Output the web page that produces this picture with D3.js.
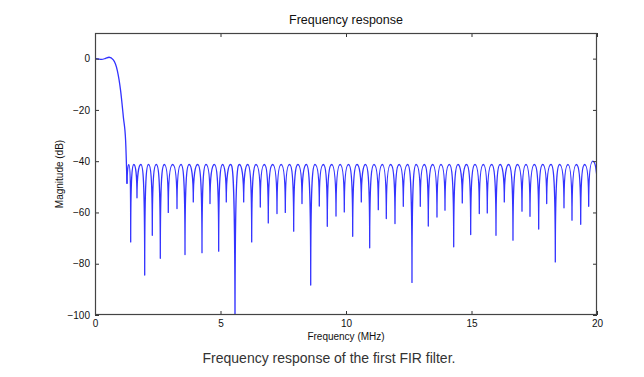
<!DOCTYPE html>
<html>
<head>
<meta charset="utf-8">
<script src="https://cdn.jsdelivr.net/npm/d3@7"></script>
<style>
  body { margin: 0; background: #fff; }
  text { font-family: "Liberation Sans", Arial, sans-serif; }
</style>
</head>
<body>
<script>
// values
const mainFreq = [0, 0.1, 0.27, 0.42, 0.56, 0.73, 0.89, 1.02, 1.13, 1.22]
const mainDb   = [0, -0.1, -0.3, 0.1, 0.55, -0.5, -4.7, -12.5, -22.8, -32]

const nullFreq = [1.275, 1.422, 1.673, 1.980, 2.283, 2.602, 2.920, 3.267, 3.586, 3.916,
  4.263, 4.582, 4.928, 5.231, 5.578, 5.924, 6.243, 6.586, 6.904, 7.251,
  7.582, 7.916, 8.247, 8.594, 8.936, 9.255, 9.602, 9.932, 10.267,
  10.610, 10.944, 11.287, 11.606, 11.952, 12.283, 12.629, 12.960, 13.279, 13.625,
  13.944, 14.291, 14.633, 14.968, 15.311, 15.629, 15.976, 16.307, 16.653,
  17.012, 17.331, 17.677, 17.996, 18.339, 18.685, 19.004, 19.351, 19.669, 20]
const nullDb = [-48.8, -71.5, -54.3, -84.4, -68.9, -77.9, -60.0, -58.5, -76.4, -55.9,
  -75.7, -56.5, -75.1, -55.9, -110, -55.9, -71.5, -57.9, -64.1, -60.4,
  -60.0, -67.3, -56.5, -88.3, -57.5, -65.4, -61.4, -59.8, -69.3,
  -55.9, -73.8, -58.9, -62.4, -64.3, -57.6, -87.3, -57.6, -65.3, -61.8,
  -59.1, -73.4, -56.3, -68.6, -60.4, -60.2, -68.9, -55.9, -70.8,
  -59.5, -61.5, -66.5, -56.5, -79.3, -58.2, -63.0, -64.6, -57.6, -48.5]
// top of each side lobe between two nulls
const peakDb = [-41.4, -41.3, -41.3, -41.3, -41.3, -41.3, -41.3, -41.3, -41.3, -41.3,
  -41.3, -41.3, -41.3, -41.3, -41.3, -41.3, -41.3, -41.3, -41.3, -41.3,
  -41.3, -41.3, -41.3, -41.3, -41.3, -41.3, -41.3, -41.3, -41.3,
  -41.3, -41.3, -41.3, -41.3, -41.3, -41.3, -41.3, -41.3, -41.3, -41.3,
  -41.3, -41.3, -41.3, -41.3, -41.3, -41.3, -41.3, -41.3, -41.3,
  -41.3, -41.3, -41.3, -41.3, -41.3, -41.3, -41.3, -41.3, -40.0]

const xTicks = [0, 5, 10, 15, 20]
const yTicks = [0, -20, -40, -60, -80, -100]

const W = 644, H = 377
const m = {top: 33, right: 47, bottom: 62, left: 95}
const pw = W - m.left - m.right, ph = H - m.top - m.bottom

const svg = d3.select("body").append("svg")
  .attr("width", W).attr("height", H)

const x = d3.scaleLinear().domain([0, 20]).range([m.left, m.left + pw])
const y = d3.scaleLinear().domain([-100, 10]).range([m.top + ph, m.top])

svg.append("clipPath").attr("id", "clip")
  .append("rect").attr("x", m.left).attr("y", m.top).attr("width", pw).attr("height", ph)

const blue = "#3333ff"

// main lobe
const mainPts = mainFreq.map((f, i) => [f, mainDb[i]]).concat([[nullFreq[0], nullDb[0]]])
const line = d3.line().x(d => x(d[0])).y(d => y(d[1])).curve(d3.curveMonotoneX)

const g = svg.append("g").attr("clip-path", "url(#clip)")
g.append("path").attr("d", line(mainPts))
  .attr("fill", "none").attr("stroke", blue).attr("stroke-width", 1.3)

// side lobes: an arch between each pair of nulls
const p = d3.path()
p.moveTo(x(nullFreq[0]), y(nullDb[0]))
for (let i = 0; i < peakDb.length; i++) {
  const x0 = x(nullFreq[i]), y0 = y(nullDb[i])
  const x1 = x(nullFreq[i + 1]), y1 = y(nullDb[i + 1])
  const xm = (x0 + x1) / 2, yp = y(peakDb[i])
  const h = xm - x0
  const k0 = Math.min(9, 0.4 * (y0 - yp)), k1 = Math.min(9, 0.4 * (y1 - yp))
  p.bezierCurveTo(x0, yp + k0, xm - 0.5 * h, yp, xm, yp)
  p.bezierCurveTo(xm + 0.5 * h, yp, x1, yp + k1, x1, y1)
}
g.append("path").attr("d", p.toString())
  .attr("fill", "none").attr("stroke", blue).attr("stroke-width", 1.3)
  .attr("stroke-linejoin", "round")

// axes, ticks inward on all four sides
const fmt = d3.format("d")
const styleAxis = sel => {
  sel.select(".domain").remove()
  sel.selectAll(".tick line").attr("stroke", "#333")
  sel.selectAll(".tick text").attr("fill", "#111").style("font-size", "10px")
    .style("font-family", '"Liberation Sans", Arial, sans-serif')
}
svg.append("g").attr("transform", `translate(0,${m.top + ph})`)
  .call(d3.axisBottom(x).tickValues(xTicks).tickFormat(fmt).tickSize(-4).tickPadding(5))
  .call(styleAxis)
svg.append("g").attr("transform", `translate(0,${m.top})`)
  .call(d3.axisTop(x).tickValues(xTicks).tickFormat("").tickSize(-4))
  .call(styleAxis)
svg.append("g").attr("transform", `translate(${m.left},0)`)
  .call(d3.axisLeft(y).tickValues(yTicks).tickFormat(fmt).tickSize(-4).tickPadding(5))
  .call(styleAxis)
svg.append("g").attr("transform", `translate(${m.left + pw},0)`)
  .call(d3.axisRight(y).tickValues(yTicks).tickFormat("").tickSize(-4))
  .call(styleAxis)

svg.append("rect")
  .attr("x", m.left + 0.5).attr("y", m.top + 0.5)
  .attr("width", pw - 1).attr("height", ph - 1)
  .attr("fill", "none").attr("stroke", "#444").attr("stroke-width", 1.2)

// texts
svg.append("text").attr("x", m.left + pw / 2).attr("y", 24)
  .attr("text-anchor", "middle").style("font-size", "12.5px").attr("fill", "#111")
  .text("Frequency response")
svg.append("text").attr("x", m.left + pw / 2).attr("y", 340)
  .attr("text-anchor", "middle").style("font-size", "10px").attr("fill", "#111")
  .text("Frequency (MHz)")
svg.append("text").attr("transform", `translate(63,${m.top + ph / 2}) rotate(-90)`)
  .attr("text-anchor", "middle").style("font-size", "10px").attr("fill", "#111")
  .text("Magnitude (dB)")
svg.append("text").attr("x", 329).attr("y", 363)
  .attr("text-anchor", "middle").style("font-size", "14px").attr("fill", "#333")
  .text("Frequency response of the first FIR filter.")
</script>
</body>
</html>
